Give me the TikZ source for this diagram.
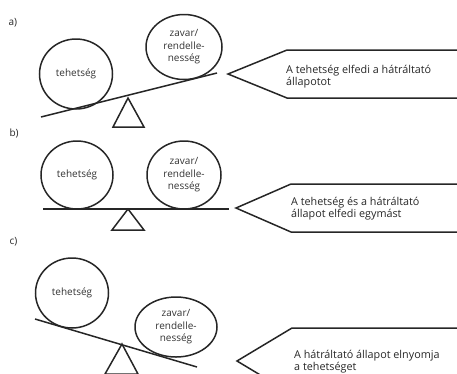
\documentclass[tikz,border=0pt]{standalone}
\usepackage{fontspec}
\setmainfont{Open Sans}
\usetikzlibrary{shapes.geometric}
\begin{document}
\begin{tikzpicture}[x=1pt,y=-1pt,
  lw/.style={line width=1.5pt,black!85},
  ball/.style={ellipse,draw,lw,inner sep=0pt,align=center,font=\fontsize{10}{12.5}\selectfont,text=black!80},
  lbl/.style={anchor=west,font=\fontsize{10}{11}\selectfont,text=black!85},
  msg/.style={anchor=west,align=left,inner sep=0pt,font=\fontsize{10.8}{11.8}\selectfont,text=black!85},
  pennant/.style={lw,line join=miter}]
\useasboundingbox (0,0) rectangle (457,373);
% ---------- a)
\node[lbl] (la) at (5,23) {a)};
\node[ball,minimum width=73pt,minimum height=70pt] (a1) at (76,74) {tehetség};
\node[ball,minimum width=76pt,minimum height=65pt] (a2) at (184,47) {zavar/\\rendelle-\\nesség};
\coordinate (abl) at (41,117); \coordinate (abr) at (217,73);
\draw[lw] (abl) -- (abr);
\coordinate (at) at (128,98); \coordinate (atl) at (113,127); \coordinate (atr) at (144,127);
\draw[lw,line join=miter] (at) -- (atl) -- (atr) -- cycle;
\coordinate (ap1) at (457,50); \coordinate (ap2) at (287,50); \coordinate (ap3) at (228,74);
\coordinate (ap4) at (287,98); \coordinate (ap5) at (457,98);
\draw[pennant] (ap1) -- (ap2) -- (ap3) -- (ap4) -- (ap5);
\node[msg] (am) at (286,77) {A tehetség elfedi a hátráltató\\állapotot};
% ---------- b)
\node[lbl] (lb) at (6,133) {b)};
\node[ball,minimum width=72pt,minimum height=68pt] (b1) at (77,175) {tehetség};
\node[ball,minimum width=74pt,minimum height=68pt] (b2) at (184,175) {zavar/\\rendelle-\\nesség};
\coordinate (bbl) at (43,209); \coordinate (bbr) at (229,209);
\draw[lw] (bbl) -- (bbr);
\coordinate (bt) at (128,209); \coordinate (btl) at (112,230); \coordinate (btr) at (144,230);
\draw[lw,line join=miter] (bt) -- (btl) -- (btr) -- cycle;
\coordinate (bp1) at (457,184); \coordinate (bp2) at (291,184); \coordinate (bp3) at (236,208);
\coordinate (bp4) at (291,232); \coordinate (bp5) at (457,232);
\draw[pennant] (bp1) -- (bp2) -- (bp3) -- (bp4) -- (bp5);
\node[msg] (bm) at (291,209) {A tehetség és a hátráltató\\állapot elfedi egymást};
% ---------- c)
\node[lbl] (lc) at (6,242) {c)};
\node[ball,minimum width=73pt,minimum height=70pt] (c1) at (72,293) {tehetség};
\node[ball,minimum width=82pt,minimum height=60pt] (c2) at (176,327) {zavar/\\rendelle-\\nesség};
\coordinate (cbl) at (35,319); \coordinate (cbr) at (197,367);
\draw[lw] (cbl) -- (cbr);
\coordinate (ct) at (122,344); \coordinate (ctl) at (105,374); \coordinate (ctr) at (138,374);
\draw[lw,line join=miter] (ct) -- (ctl) -- (ctr) -- cycle;
\coordinate (cp1) at (457,328); \coordinate (cp2) at (292,328); \coordinate (cp3) at (237,361);
\coordinate (cp4) at (292,394); \coordinate (cp5) at (457,394);
\draw[pennant] (cp1) -- (cp2) -- (cp3) -- (cp4) -- (cp5);
\node[msg] (cm) at (294,362) {A hátráltató állapot elnyomja\\a tehetséget};
\end{tikzpicture}
\end{document}
